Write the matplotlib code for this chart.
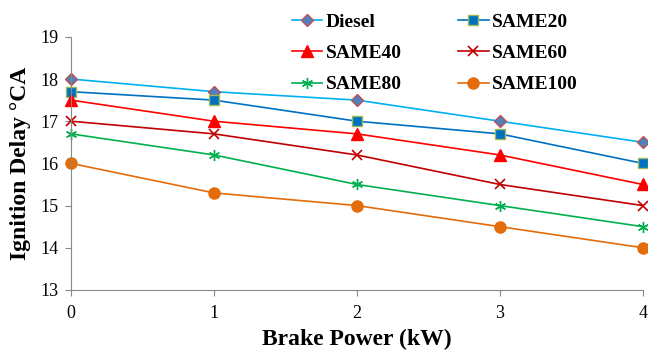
import numpy as np
import matplotlib.pyplot as plt

plt.rcParams['font.family'] = ['Liberation Serif', 'DejaVu Serif']

power = [0, 1, 2, 3, 4]
diesel = [18.0, 17.7, 17.5, 17.0, 16.5]
same20 = [17.7, 17.5, 17.0, 16.7, 16.0]
same40 = [17.5, 17.0, 16.7, 16.2, 15.5]
same60 = [17.0, 16.7, 16.2, 15.5, 15.0]
same80 = [16.7, 16.2, 15.5, 15.0, 14.5]
same100 = [16.0, 15.3, 15.0, 14.5, 14.0]

fig = plt.figure(figsize=(6.48, 3.51), dpi=100)
ax = fig.add_axes([0.1096, 0.174, 0.8824, 0.721])

l1, = ax.plot(power, diesel, color='#00b0f0', lw=1.2, marker='D', ms=6,
              mfc='#4f81bd', mec='#c0504d', mew=1.0, label='Diesel', clip_on=False)
l2, = ax.plot(power, same20, color='#0070c0', lw=1.2, marker='s', ms=7,
              mfc='#0070c0', mec='#9bbb59', mew=1.0, label='SAME20', clip_on=False)
l3, = ax.plot(power, same40, color='#ff0000', lw=1.2, marker='^', ms=8,
              mfc='#ff0000', mec='#ff0000', label='SAME40', clip_on=False)
l4, = ax.plot(power, same60, color='#c00000', lw=1.2, marker='x', ms=7,
              mew=1.2, label='SAME60', clip_on=False)
l5, = ax.plot(power, same80, color='#00b050', lw=1.2, marker=(6, 2, 0), ms=8,
              mew=1.0, label='SAME80', clip_on=False)
l6, = ax.plot(power, same100, color='#e46c0a', lw=1.2, marker='o', ms=8,
              mfc='#e46c0a', mec='#e46c0a', label='SAME100', clip_on=False)

ax.set_xlim(0, 4)
ax.set_ylim(13, 19)
ax.set_xticks(power)
ax.set_yticks(range(13, 20))
ax.tick_params(labelsize=13, length=4, color='#888888', pad=5)
ax.tick_params(axis='x', pad=7)
for s in ['top', 'right']:
    ax.spines[s].set_visible(False)
for s in ['left', 'bottom']:
    ax.spines[s].set_color('#888888')

ax.set_xlabel('Brake Power (kW)', fontsize=17, fontweight='bold', labelpad=5)
ax.set_ylabel('Ignition Delay °CA', fontsize=17, fontweight='bold', labelpad=7)

# legend is filled column by column, so order handles to read row-wise
handles = [l1, l3, l5, l2, l4, l6]
fig.legend(handles=handles, labels=[h.get_label() for h in handles], ncol=2,
           loc='upper left', bbox_to_anchor=(0.4506, 0.962), frameon=False,
           prop={'size': 14, 'weight': 'bold'}, handlelength=1.55, handletextpad=0.2,
           columnspacing=2.9, labelspacing=0.7, borderpad=0, borderaxespad=0)

fig.savefig('out.png', dpi=100)
